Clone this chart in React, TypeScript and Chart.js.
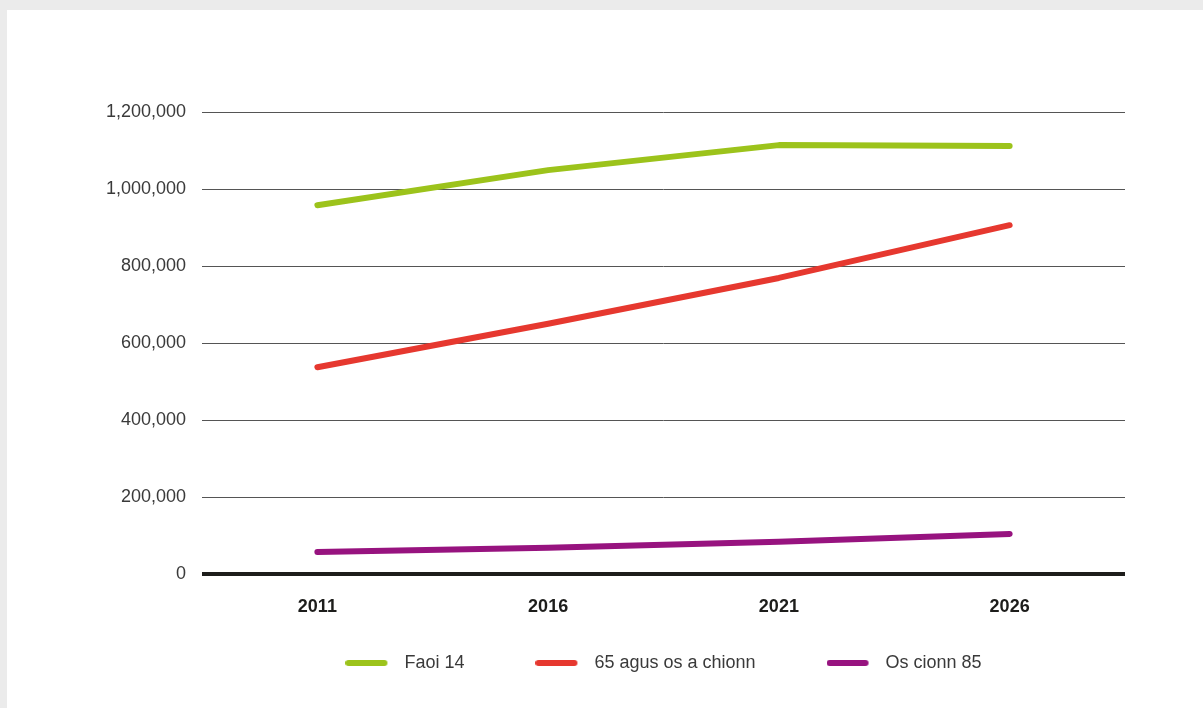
import React, { useEffect, useRef } from "react";
import { Chart, registerables } from "chart.js";

Chart.register(...registerables);

const categories = ["2011", "2016", "2021", "2026"];
const seriesNames = ["Faoi 14", "65 agus os a chionn", "Os cionn 85"];
const under14 = [958000, 1049000, 1114000, 1112000];
const over65 = [537000, 650000, 769000, 906000];
const over85 = [57000, 68000, 84000, 104000];
const seriesColors = ["#9cc31b", "#e6382f", "#97137f"];
const yTicks = [0, 200000, 400000, 600000, 800000, 1000000, 1200000];

const FONT = "'Liberation Sans', Arial, Helvetica, sans-serif";
const W = 1196;
const H = 698;

function makeLegendImage(color: string): HTMLCanvasElement {
  const c = document.createElement("canvas");
  c.width = 50;
  c.height = 6;
  const g = c.getContext("2d")!;
  g.fillStyle = color;
  g.beginPath();
  g.moveTo(3, 0);
  g.lineTo(39, 0);
  g.arc(39, 3, 3, -Math.PI / 2, Math.PI / 2);
  g.lineTo(3, 6);
  g.arc(3, 3, 3, Math.PI / 2, (3 * Math.PI) / 2);
  g.closePath();
  g.fill();
  return c;
}

export default function App() {
  const ref = useRef<HTMLCanvasElement | null>(null);

  useEffect(() => {
    if (!ref.current) return;
    const values = [under14, over65, over85];
    const images = seriesColors.map(makeLegendImage);
    const chart = new Chart(ref.current, {
      type: "line",
      data: {
        labels: categories,
        datasets: seriesNames.map((name, i) => ({
          label: name,
          data: values[i],
          borderColor: seriesColors[i],
          backgroundColor: seriesColors[i],
          borderWidth: 6,
          borderCapStyle: "round" as const,
          borderJoinStyle: "round" as const,
          pointRadius: 0,
          pointHoverRadius: 0,
          tension: 0,
          fill: false,
        })),
      },
      options: {
        responsive: false,
        animation: false,
        devicePixelRatio: 1,
        layout: { padding: { left: 0, right: 78, top: 102, bottom: 26 } },
        plugins: {
          tooltip: { enabled: false },
          legend: {
            position: "bottom",
            fullSize: false,
            labels: {
              usePointStyle: true,
              pointStyleWidth: 50,
              padding: 71,
              color: "#3a3a3a",
              font: { family: FONT, size: 18, weight: "normal" },
              generateLabels: (ch: any) =>
                ch.data.datasets.map((ds: any, i: number) => ({
                  text: ds.label,
                  fillStyle: seriesColors[i],
                  strokeStyle: seriesColors[i],
                  lineWidth: 0,
                  pointStyle: images[i],
                  fontColor: "#3a3a3a",
                  hidden: false,
                  datasetIndex: i,
                })),
            },
          },
        },
        scales: {
          x: {
            type: "category",
            offset: true,
            grid: { display: false, drawTicks: false },
            border: { display: false },
            ticks: {
              mirror: true,
              padding: -44,
              color: "#1d1d1b",
              font: { family: FONT, size: 18, weight: "bold" },
            },
            afterFit: (s: any) => {
              s.height = 9;
            },
          },
          y: {
            min: 0,
            max: 1200000,
            afterBuildTicks: (s: any) => {
              s.ticks = yTicks.map((v) => ({ value: v }));
            },
            grid: {
              drawTicks: false,
              color: (ctx: any) => (ctx.tick && ctx.tick.value === 0 ? "#1d1d1b" : "#555555"),
              lineWidth: (ctx: any) => (ctx.tick && ctx.tick.value === 0 ? 4 : 1),
            },
            border: { display: false },
            ticks: {
              padding: 16,
              color: "#3a3a3a",
              font: { family: FONT, size: 18 },
              callback: (v: any) => Number(v).toLocaleString("en-US"),
            },
            afterFit: (s: any) => {
              s.width = 195;
            },
          },
        },
      },
    } as any);
    return () => chart.destroy();
  }, []);

  return (
    <div style={{ position: "fixed", inset: 0, background: "#ebebeb" }}>
      <div
        style={{
          position: "absolute",
          left: 7,
          top: 10,
          right: 0,
          bottom: 0,
          background: "#ffffff",
        }}
      >
        <canvas ref={ref} width={W} height={H} style={{ width: W, height: H, display: "block" }} />
      </div>
    </div>
  );
}
